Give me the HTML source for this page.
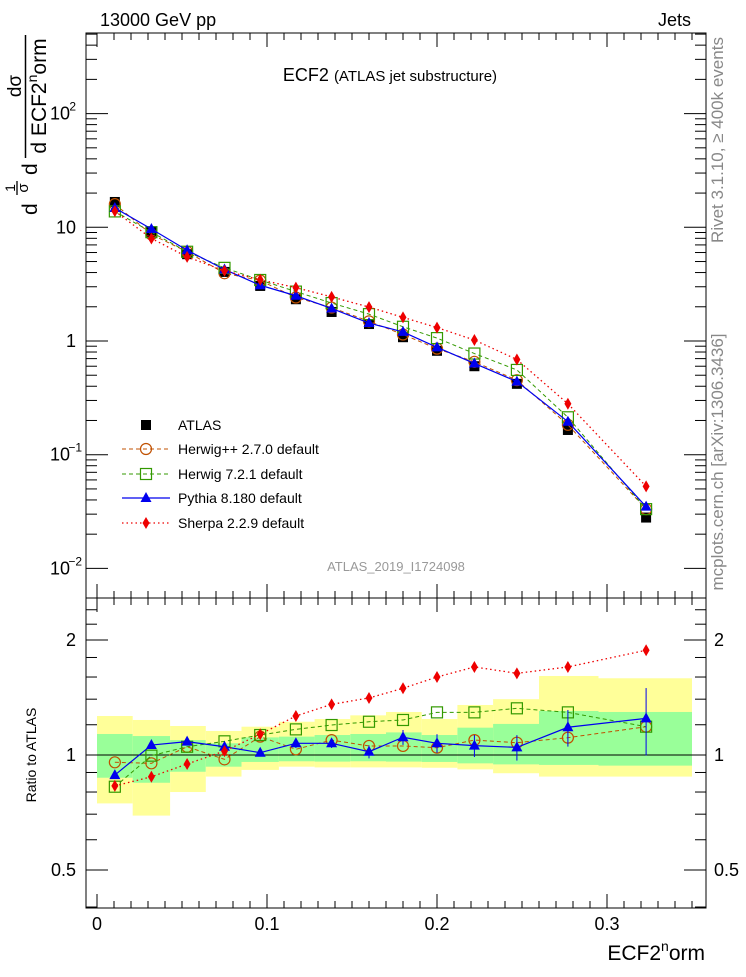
<!DOCTYPE html>
<html><head><meta charset="utf-8"><style>
body{margin:0;background:#fff;}
svg text{font-family:"Liberation Sans",sans-serif;}
</style></head><body>
<svg id="chart" width="746" height="972" viewBox="0 0 746 972" xmlns="http://www.w3.org/2000/svg">
<g id="ratioBands"></g>
<g id="mainG"></g>
<g id="ratioG"></g>
<g id="axes"></g>
<text x="100" y="26" font-size="18">13000 GeV pp</text>
<text x="691" y="26" font-size="18" text-anchor="end">Jets</text>
<text x="390" y="81" font-size="18" text-anchor="middle">ECF2 <tspan font-size="15">(ATLAS jet substructure)</tspan></text>
<text x="396" y="571" font-size="13" fill="#999" text-anchor="middle">ATLAS_2019_I1724098</text>
<text transform="translate(723,140) rotate(-90)" font-size="17" fill="#888" text-anchor="middle">Rivet 3.1.10, ≥ 400k events</text>
<text transform="translate(723,462) rotate(-90)" font-size="17" fill="#888" text-anchor="middle">mcplots.cern.ch [arXiv:1306.3436]</text>
<text transform="translate(36,755) rotate(-90)" font-size="14" text-anchor="middle">Ratio to ATLAS</text>
<text x="705" y="960" font-size="21" text-anchor="end">ECF2<tspan font-size="14" dy="-9">n</tspan><tspan dy="9">orm</tspan></text>
<g transform="rotate(-90)">
<text x="-215" y="37" font-size="21">d</text>
<text x="-188" y="15" font-size="14" text-anchor="middle">1</text>
<line x1="-195" x2="-181" y1="17" y2="17" stroke="#000" stroke-width="1.3"/>
<text x="-188" y="28" font-size="15" text-anchor="middle">σ</text>
<text x="-175" y="37" font-size="21">d</text>
<line x1="-158" x2="-35" y1="25.5" y2="25.5" stroke="#000" stroke-width="1.5"/>
<text x="-86" y="21" font-size="19" text-anchor="middle">dσ</text>
<text x="-96" y="46" font-size="21" text-anchor="middle">d ECF2<tspan font-size="14" dy="-9">n</tspan><tspan dy="9">orm</tspan></text>
</g>
<g id="legend"></g>
</svg>
<script>
const binEdges=[0,0.021,0.043,0.064,0.085,0.107,0.128,0.149,0.170,0.191,0.212,0.233,0.26,0.295,0.35];
const xCenters=[0.0105,0.032,0.053,0.075,0.096,0.117,0.138,0.16,0.18,0.2,0.222,0.247,0.277,0.323];
const atlas=[16.7,9.1,5.8,4.05,3.05,2.33,1.8,1.41,1.08,0.82,0.6,0.42,0.165,0.028];
const ratioHerwigPP=[0.957,0.951,1.051,0.974,1.117,1.035,1.094,1.056,1.056,1.045,1.094,1.077,1.11,1.186];
const ratioHerwig7=[0.826,0.996,1.051,1.086,1.128,1.167,1.198,1.222,1.235,1.293,1.293,1.325,1.293,1.186];
const ratioPythia=[0.886,1.062,1.084,1.051,1.014,1.073,1.073,1.02,1.113,1.073,1.058,1.047,1.182,1.247];
const ratioSherpa=[0.83,0.877,0.947,1.024,1.133,1.265,1.357,1.41,1.495,1.6,1.70,1.636,1.70,1.88];
const pythiaErr=[0.01,0.01,0.01,0.01,0.02,0.03,0.03,0.04,0.05,0.06,0.07,0.08,0.13,0.25];
const greenHi=[1.135,1.121,1.094,1.073,1.112,1.117,1.128,1.135,1.146,1.128,1.179,1.206,1.304,1.296];
const greenLo=[0.872,0.846,0.904,0.932,0.959,0.963,0.961,0.963,0.961,0.959,0.951,0.945,0.942,0.938];
const yellowHi=[1.265,1.235,1.191,1.156,1.186,1.222,1.242,1.27,1.296,1.242,1.352,1.40,1.61,1.588];
const yellowLo=[0.747,0.694,0.80,0.878,0.914,0.932,0.928,0.928,0.928,0.926,0.917,0.896,0.878,0.878];
const xTicks=[0,0.1,0.2,0.3];
const mainTicks=[[0.01,"10","−2"],[0.1,"10","−1"],[1,"1",""],[10,"10",""],[100,"10","2"]];
const ratioTicks=[0.5,1,2];

const NS="http://www.w3.org/2000/svg";
const L=86,R=706,T=33,MB=598,RB=908;
const X=v=>97+1700*v;
const Y=v=>341-113.7*Math.log10(v);
const YR=r=>755-115*Math.log2(r);
function mk(tag,attrs,parent){const e=document.createElementNS(NS,tag);for(const k in attrs)e.setAttribute(k,attrs[k]);parent.appendChild(e);return e;}
const mainG=document.getElementById('mainG'),ratioG=document.getElementById('ratioG'),axes=document.getElementById('axes'),bands=document.getElementById('ratioBands'),legend=document.getElementById('legend');

for(let i=0;i<xCenters.length;i++){
  const x0=X(binEdges[i]),x1=X(binEdges[i+1]);
  const y=mk('rect',{x:x0,y:YR(yellowHi[i]),width:x1-x0,height:YR(yellowLo[i])-YR(yellowHi[i]),fill:'#ffff99'},bands);
  
  
  const g=mk('rect',{x:x0,y:YR(greenHi[i]),width:x1-x0,height:YR(greenLo[i])-YR(greenHi[i]),fill:'#99ff99'},bands);
  
  
}
mk('line',{x1:L,x2:R,y1:YR(1),y2:YR(1),stroke:'#000','stroke-width':1},bands);

function marker(type,cx,cy,color,parent){
  let e;
  if(type==='sq') e=mk('rect',{x:cx-5,y:cy-5,width:10,height:10,fill:'#000'},parent);
  else if(type==='circ') e=mk('circle',{cx:cx,cy:cy,r:5.5,fill:'none',stroke:color,'stroke-width':1.2},parent);
  else if(type==='osq') e=mk('rect',{x:cx-5.5,y:cy-5.5,width:11,height:11,fill:'none',stroke:color,'stroke-width':1.2},parent);
  else if(type==='tri') e=mk('polygon',{points:`${cx},${cy-6} ${cx-5.5},${cy+4} ${cx+5.5},${cy+4}`,fill:color},parent);
  else e=mk('polygon',{points:`${cx},${cy-6} ${cx-3.5},${cy} ${cx},${cy+6} ${cx+3.5},${cy}`,fill:color},parent);
  return e;
}
const series=[
 {name:'herwigpp',label:'Herwig++ 2.7.0 default',r:ratioHerwigPP,color:'#c05000',m:'circ',dash:'4,3',w:1},
 {name:'herwig7',label:'Herwig 7.2.1 default',r:ratioHerwig7,color:'#339900',m:'osq',dash:'4,3',w:1},
 {name:'pythia',label:'Pythia 8.180 default',r:ratioPythia,color:'#0000ee',m:'tri',dash:'',w:1.2},
 {name:'sherpa',label:'Sherpa 2.2.9 default',r:ratioSherpa,color:'#ee0000',m:'dia',dash:'1.5,3',w:1.3}
];
atlas.forEach((v,i)=>{const e=marker('sq',X(xCenters[i]),Y(v),'#000',mainG);
  
  });
series.forEach(s=>{
  const pts=xCenters.map((x,i)=>[X(x),Y(atlas[i]*s.r[i])]);
  const l=mk('polyline',{points:pts.map(p=>p.join(',')).join(' '),fill:'none',stroke:s.color,'stroke-width':s.w,'stroke-dasharray':s.dash},mainG);
  
  
  pts.forEach(p=>{const e=marker(s.m,p[0],p[1],s.color,mainG);
    
    });
  const rp=xCenters.map((x,i)=>[X(x),YR(s.r[i])]);
  const rl=mk('polyline',{points:rp.map(p=>p.join(',')).join(' '),fill:'none',stroke:s.color,'stroke-width':s.w,'stroke-dasharray':s.dash},ratioG);
  
  
  if(s.name==='pythia'){
    rp.forEach((p,i)=>{const e=mk('line',{x1:p[0],x2:p[0],y1:YR(s.r[i]+pythiaErr[i]),y2:YR(s.r[i]-pythiaErr[i]),stroke:s.color,'stroke-width':1},ratioG);
      
      });
  }
  rp.forEach(p=>{const e=marker(s.m,p[0],p[1],s.color,ratioG);
    
    });
});
const ly=[425,449,474,498,523];
marker('sq',146,ly[0],'#000',legend);
let t=mk('text',{x:178,y:ly[0]+5,'font-size':14},legend);t.textContent='ATLAS';
series.forEach((s,k)=>{
  const y=ly[k+1];
  mk('line',{x1:122,x2:170,y1:y,y2:y,stroke:s.color,'stroke-width':s.w,'stroke-dasharray':s.dash},legend);
  marker(s.m,146,y,s.color,legend);
  const tx=mk('text',{x:178,y:y+5,'font-size':14},legend);tx.textContent=s.label;
  
  
});
mk('rect',{x:L,y:T,width:R-L,height:MB-T,fill:'none',stroke:'#000','stroke-width':1},axes);
mk('rect',{x:L,y:MB,width:R-L,height:RB-MB,fill:'none',stroke:'#000','stroke-width':1},axes);
for(let v=0;v<=0.355;v+=0.02){const x=X(v);const major=Math.abs(v*10-Math.round(v*10))<1e-6;
  const len=major?14:7;
  [[T,1],[MB,-1],[MB,1],[RB,-1]].forEach(([y0,d])=>mk('line',{x1:x,x2:x,y1:y0,y2:y0+d*len,stroke:'#000'},axes));}
for(let v=0.01;v<=0.355;v+=0.02){const x=X(v);[[T,1],[MB,-1],[MB,1],[RB,-1]].forEach(([y0,d])=>mk('line',{x1:x,x2:x,y1:y0,y2:y0+d*7,stroke:'#000'},axes));}
xTicks.forEach(v=>{const e=mk('text',{x:X(v),y:930,'font-size':18,'text-anchor':'middle'},axes);e.textContent=v===0?'0':String(v);
  
  });
for(let d=-2;d<=2;d++){for(let m=1;m<10;m++){const v=m*Math.pow(10,d);const y=Y(v);if(y<T||y>MB)continue;
  const len=m===1?22:11;mk('line',{x1:L,x2:L+len,y1:y,y2:y,stroke:'#000'},axes);mk('line',{x1:R,x2:R-len,y1:y,y2:y,stroke:'#000'},axes);}}
mainTicks.forEach(([v,b,e])=>{const tx=mk('text',{x:e?70:76,y:Y(v)+6,'font-size':18,'text-anchor':'end'},axes);tx.textContent=b;
  
  
  if(e){const s=mk('text',{x:e==="2"?76:82,y:Y(v)-3,'font-size':12,'text-anchor':'end'},axes);s.textContent=e;}});
[0.4,0.5,0.6,0.7,0.8,0.9,1,1.2,1.4,1.6,1.8,2,2.2,2.4].forEach(v=>{const y=YR(v);const maj=ratioTicks.includes(v);const len=maj?22:11;
  mk('line',{x1:L,x2:L+len,y1:y,y2:y,stroke:'#000'},axes);mk('line',{x1:R,x2:R-len,y1:y,y2:y,stroke:'#000'},axes);});
ratioTicks.forEach(v=>{[[76,'end'],[714,'start']].forEach(([x,a])=>{const tx=mk('text',{x:x,y:YR(v)+6,'font-size':18,'text-anchor':a},axes);tx.textContent=String(v);
  
  });});
</script>
</body></html>
